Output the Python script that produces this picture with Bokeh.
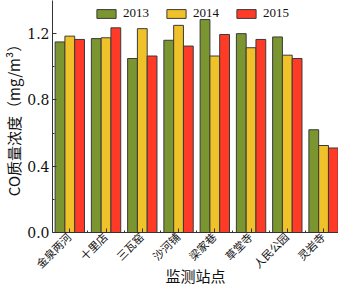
from bokeh.plotting import figure
from bokeh.models import FixedTicker, ColumnDataSource
from bokeh.embed import file_html
from bokeh.resources import INLINE
import math

stations = ["金泉两河", "十里店", "三瓦窑", "沙河铺", "梁家巷", "草堂寺", "人民公园", "灵岩寺"]
years = ["2013", "2014", "2015"]
v2013 = [1.15, 1.17, 1.05, 1.16, 1.285, 1.20, 1.18, 0.62]
v2014 = [1.185, 1.175, 1.23, 1.25, 1.065, 1.115, 1.07, 0.525]
v2015 = [1.165, 1.235, 1.065, 1.125, 1.195, 1.165, 1.05, 0.51]
y_ticks = [0.0, 0.4, 0.8, 1.2]
y_tick_labels = ["0.0", "0.4", "0.8", "1.2"]
y_minor = [0.2, 0.6, 1.0]

colors = ["#7b9530", "#f0c22a", "#ff3b28"]
offsets = [-0.27, 0.0, 0.27]
bar_w = 0.27

centers = [i + 0.5 for i in range(len(stations))]

p = figure(width=338, height=288, output_backend="svg", toolbar_location=None,
           x_range=(0.023, 7.912), y_range=(0, 1.40),
           min_border_left=40, min_border_right=0, min_border_top=0, min_border_bottom=30)
p.outline_line_color = None
p.xgrid.visible = False
p.ygrid.visible = False

for vals, yr, col, off in zip([v2013, v2014, v2015], years, colors, offsets):
    src = ColumnDataSource(dict(x=[c + off for c in centers], top=vals))
    p.vbar(x="x", top="top", width=bar_w, source=src, fill_color=col,
           line_color="#3a3a3a", line_width=1, legend_label=yr)

serif = "DejaVu Serif"
cjk = "Noto Sans CJK SC"
cjk_stack = "DejaVu Sans, Noto Sans CJK SC"

# y axis
p.yaxis.ticker = FixedTicker(ticks=y_ticks, minor_ticks=y_minor)
p.yaxis.major_label_overrides = {t: l for t, l in zip(y_ticks, y_tick_labels)}
p.yaxis.major_label_text_font = serif
p.yaxis.major_label_text_font_size = "14px"
p.yaxis.major_label_text_color = "#111111"
p.yaxis.major_tick_in = 4
p.yaxis.major_tick_out = 0
p.yaxis.minor_tick_in = 2
p.yaxis.minor_tick_out = 0
p.yaxis.major_label_standoff = 3
p.yaxis.axis_label = "CO质量浓度（mg/m³）"
p.yaxis.axis_label_text_font = cjk
p.yaxis.axis_label_text_font_size = "15px"
p.yaxis.axis_label_text_font_style = "normal"
p.yaxis.axis_label_text_color = "#111111"
p.yaxis.axis_label_standoff = 0
p.yaxis.axis_line_color = "#333333"
p.yaxis.major_tick_line_color = "#333333"
p.yaxis.minor_tick_line_color = "#333333"

# x axis
p.xaxis.ticker = FixedTicker(ticks=centers, minor_ticks=[float(i) for i in range(1, len(stations))])
p.xaxis.major_label_overrides = {c: s for c, s in zip(centers, stations)}
p.xaxis.major_label_orientation = math.pi / 4
p.xaxis.major_label_text_font = cjk_stack
p.xaxis.major_label_text_font_size = "11px"
p.xaxis.major_label_text_line_height = 1.0
p.xaxis.major_label_text_color = "#111111"
p.xaxis.major_tick_in = 4
p.xaxis.major_tick_out = 0
p.xaxis.minor_tick_in = 2
p.xaxis.minor_tick_out = 0
p.xaxis.major_label_standoff = 3
p.xaxis.axis_label = "监测站点"
p.xaxis.axis_label_text_font = cjk_stack
p.xaxis.axis_label_text_font_size = "15px"
p.xaxis.axis_label_text_line_height = 1.0
p.xaxis.axis_label_text_font_style = "normal"
p.xaxis.axis_label_text_color = "#111111"
p.xaxis.axis_label_standoff = -11
p.xaxis.axis_line_color = "#333333"
p.xaxis.major_tick_line_color = "#333333"
p.xaxis.minor_tick_line_color = "#333333"

# legend
lg = p.legend[0]
lg.orientation = "horizontal"
lg.location = (42, 211)
lg.padding = 0
lg.margin = 0
lg.spacing = 15
lg.border_line_color = None
lg.background_fill_alpha = 0
lg.glyph_width = 24
lg.glyph_height = 11
lg.label_height = 12
lg.label_standoff = 5
lg.label_text_font = "Liberation Serif"
lg.label_text_font_size = "13px"
lg.label_text_color = "#111111"

open("out.html", "w").write(file_html(p, INLINE))
